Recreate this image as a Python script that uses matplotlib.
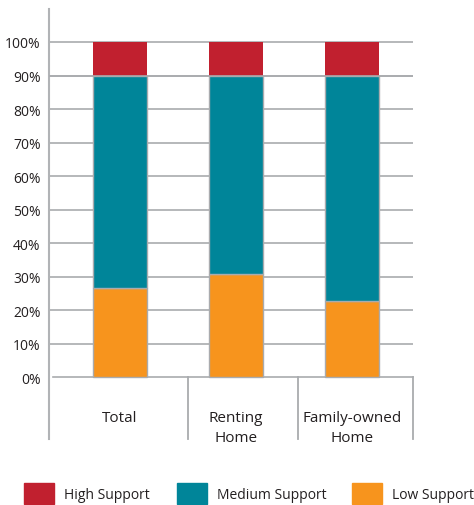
import matplotlib
matplotlib.use("Agg")
import matplotlib.pyplot as plt
from matplotlib.patches import Patch

plt.rcParams['font.family'] = ['Open Sans', 'DejaVu Sans']

categories = ['Total', 'Renting\nHome', 'Family-owned\nHome']
low = [26.6, 30.8, 22.7]
medium = [63.4, 59.2, 67.3]
high = [10.0, 10.0, 10.0]
series_names = ['High Support', 'Medium Support', 'Low Support']
yticks = list(range(0, 101, 10))

red = '#c1202f'
teal = '#008599'
orange = '#f7941d'
grey = '#a9abae'
txt = '#231f20'

W, H = 474, 506
fig = plt.figure(figsize=(W / 100, H / 100), dpi=100)
# axes box in pixels: left 49, right 413, top 10, bottom 440
ax = fig.add_axes([49 / W, 66 / H, 364 / W, 430 / H])

x = list(range(len(categories)))
ax.set_xlim(-0.612, 2.526)
ax.set_ylim(-18.5, 109.85)

# grid lines
for v in yticks[1:]:
    ax.axhline(v, color=grey, lw=1.2, zorder=1)
ax.plot([-0.578, 2.526], [0, 0], color=grey, lw=1.2, zorder=1, clip_on=False)

bw = 0.466
ax.bar(x, low, bw, color=orange, edgecolor=grey, lw=1.0, zorder=2)
ax.bar(x, medium, bw, bottom=low, color=teal, edgecolor=grey, lw=1.0, zorder=2)
bottoms = [a + b for a, b in zip(low, medium)]
ax.bar(x, high, bw, bottom=bottoms, color=red, lw=0, zorder=2)
# line between red and teal
ax.axhline(90, color=grey, lw=1.2, zorder=3)

# category separators below the plot
for sx in [0.586, 1.534, 2.526]:
    ax.plot([sx, sx], [0, -18.5], color=grey, lw=1.3, zorder=1, clip_on=False)

for xi, name in zip(x, categories):
    ax.text(xi, -9.9, name, ha='center', va='top', fontsize=11,
            color=txt, linespacing=1.4)

for s in ['top', 'right', 'bottom']:
    ax.spines[s].set_visible(False)
ax.spines['left'].set_color('#b1b3b6')
ax.spines['left'].set_linewidth(1.5)

ax.set_xticks([])
ax.set_yticks(yticks)
ax.set_yticklabels([f'{v}%' for v in yticks], fontsize=10, color=txt)
ax.tick_params(axis='y', length=0, pad=6)

# one legend entry per colour, placed like the original
colors = [red, teal, orange]
lx = [24, 177, 352]
for name, c, px in zip(series_names, colors, lx):
    fig.legend([Patch(color=c)], [name], loc='lower left',
               bbox_to_anchor=(px / W, 1 / H), frameon=False, fontsize=10,
               handlelength=2.16, handleheight=1.94, handletextpad=0.72,
               borderpad=0, borderaxespad=0, labelcolor=txt)

fig.savefig('out.png', dpi=100)
